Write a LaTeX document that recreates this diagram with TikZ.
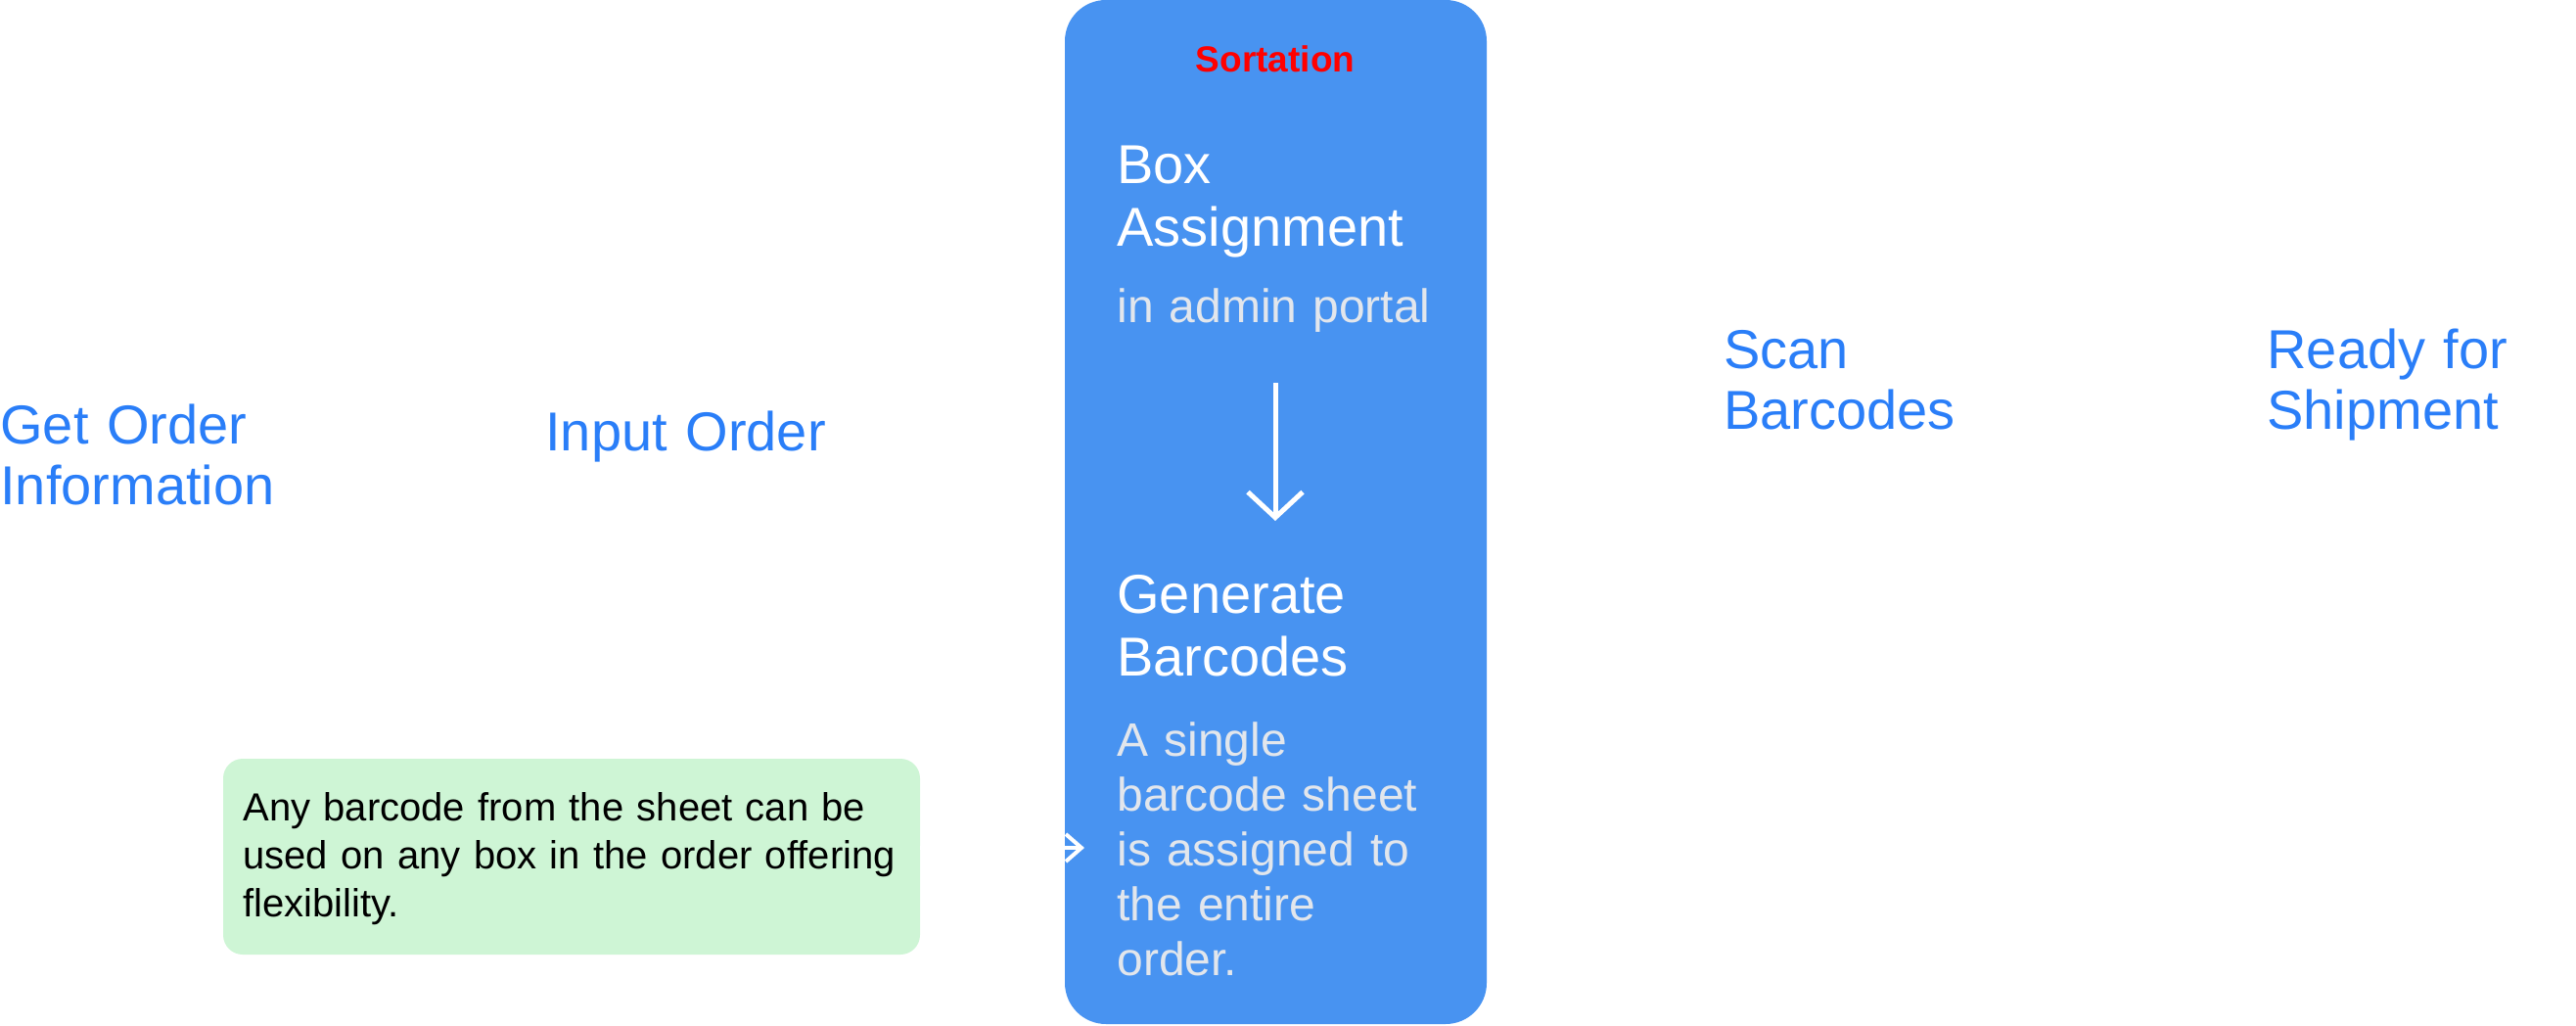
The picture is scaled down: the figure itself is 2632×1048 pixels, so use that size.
\documentclass[tikz,border=0pt]{standalone}
\usepackage{fontspec}
\setmainfont{Liberation Sans}
\usetikzlibrary{arrows.meta}
\definecolor{lblue}{HTML}{2A7EF8}
\definecolor{boxblue}{HTML}{4893F1}
\definecolor{softtxt}{HTML}{E2E6EC}
\definecolor{notegreen}{HTML}{CEF5D5}
\begin{document}
\begin{tikzpicture}[x=0.5pt,y=-0.5pt,
  steplabel/.style={anchor=base west,inner sep=0pt,text width=330pt,align=left,text=lblue,
    font=\fontsize{28}{31}\selectfont},
  boxtitle/.style={anchor=base west,inner sep=0pt,text width=190pt,align=left,text=white,
    font=\fontsize{28}{32}\selectfont},
  boxnote/.style={anchor=base west,inner sep=0pt,text width=190pt,align=left,text=softtxt,
    font=\fontsize{24}{28}\selectfont},
  sortbox/.style={draw=none,fill=boxblue,rounded corners=21pt},
  notebox/.style={draw=none,fill=notegreen,rounded corners=10pt},
  whitearrow/.style={draw=white,line width=2.5pt,-{Straight Barb[length=13pt,width=28pt]}}
]
\useasboundingbox (0,0) rectangle (2632,1048);

% sortation container
\path[sortbox] (1088,0) rectangle (1519,1046);
\coordinate (sortc) at (1303,523);
\node[anchor=base,inner sep=0pt,text=red,font=\fontsize{18.5}{22}\selectfont\bfseries] (sorttitle) at (1303,74) {Sortation};

\node[boxtitle] (boxassign) at (1141,188) {Box\\Assignment};
\node[boxnote] (adminportal) at (1141,329) {in admin portal};
\node[boxtitle] (genbar) at (1141,626) {Generate\\Barcodes};
\node[boxnote] (single) at (1141,772) {A single\\barcode sheet\\is assigned to\\the entire\\order.};

\coordinate (arrtop) at (1303,391);
\coordinate (arrbot) at (1303,532);
\draw[whitearrow] (arrtop) -- (arrbot);

% outer steps
\node[steplabel] (getorder) at (0,453) {Get Order\\Information};
\node[steplabel] (inputorder) at (557,460) {Input Order};
\node[steplabel] (scan) at (1761,376) {Scan\\Barcodes};
\node[steplabel] (ready) at (2316,376) {Ready for\\Shipment};

% note
\path[notebox] (228,775) rectangle (940,975);
\coordinate (noteeast) at (940,866);
\node[anchor=base west,inner sep=0pt,text width=340pt,align=left,text=black,
  font=\fontsize{20}{24.5}\selectfont] (note) at (248,838)
  {Any barcode from the sheet can be\\used on any box in the order offering\\flexibility.};
\coordinate (tip) at (1108,866);
\draw[draw=white,line width=2pt,-{Straight Barb[length=8pt,width=14pt]}] (noteeast) -- (tip);
\end{tikzpicture}
\end{document}
